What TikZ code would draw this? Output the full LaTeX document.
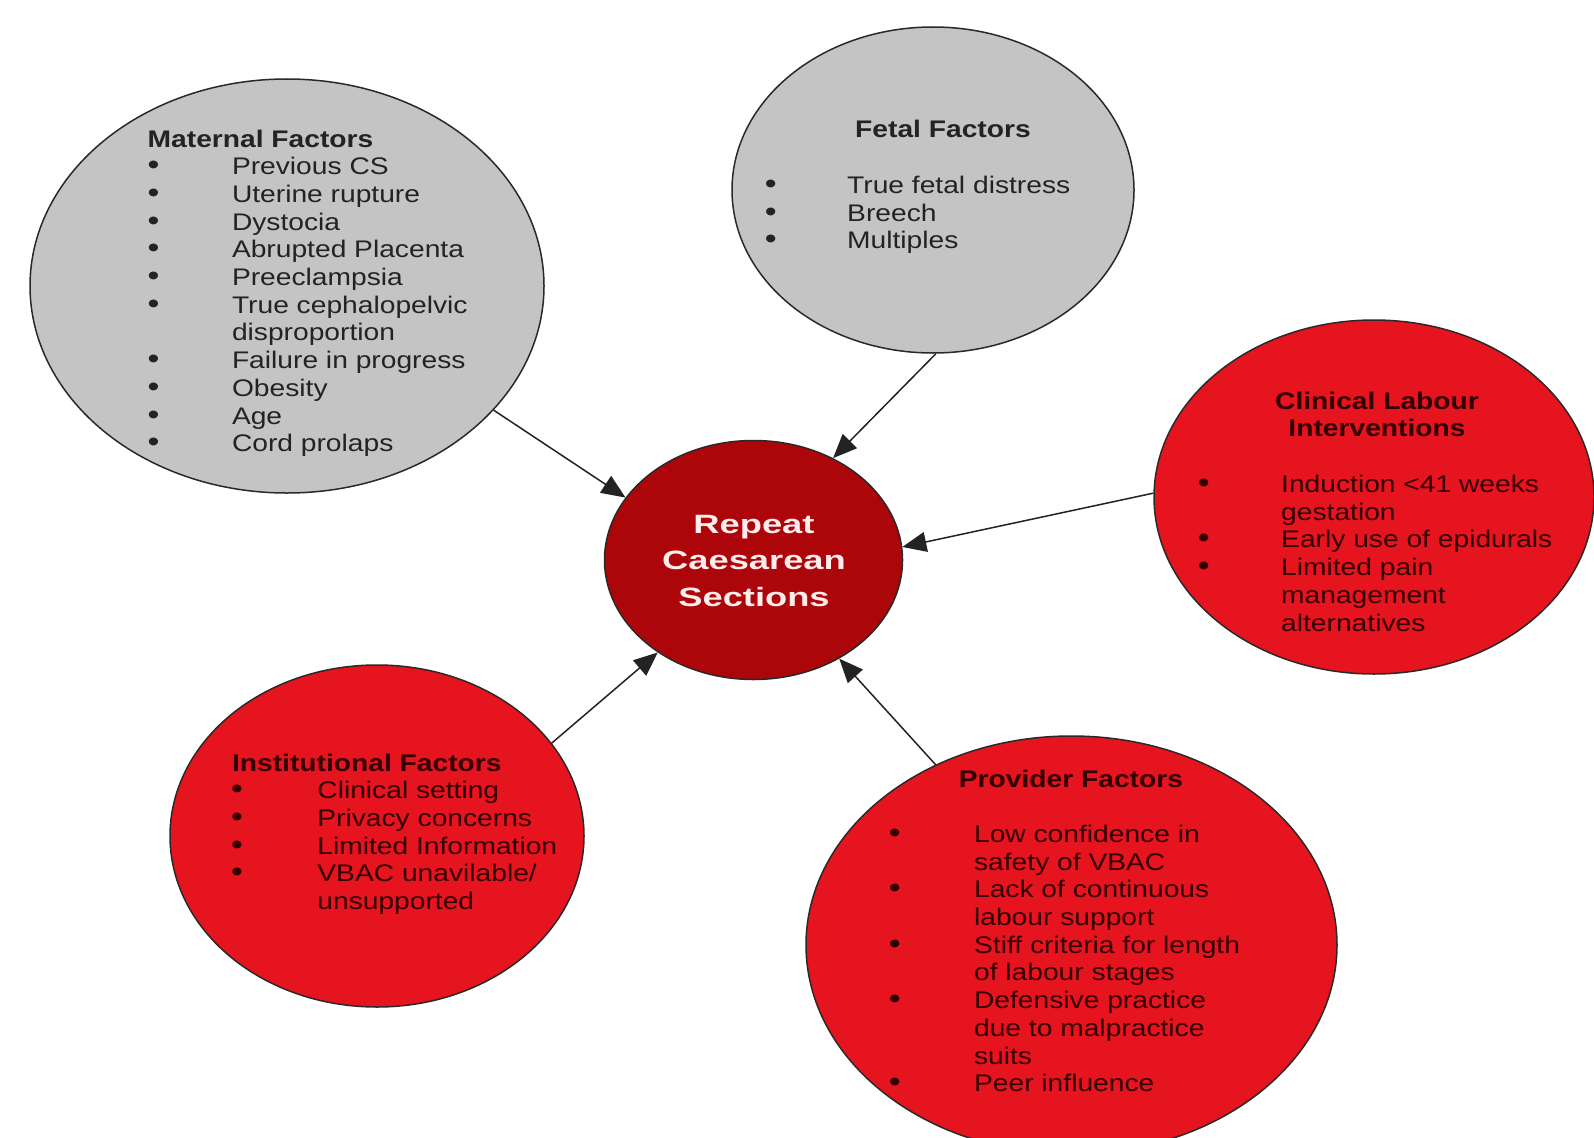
\documentclass[tikz,border=0pt]{standalone}
\usepackage{fontspec}
\setmainfont{Liberation Sans}
\newfontfamily\bodyfont[FakeStretch=1.175]{Liberation Sans}
\newfontfamily\ctrfont[FakeStretch=1.37]{Liberation Sans}
\usetikzlibrary{shapes.geometric,arrows.meta}
\definecolor{greyfill}{RGB}{196,196,196}
\definecolor{redfill}{RGB}{230,20,30}
\definecolor{ctrfill}{RGB}{172,6,10}
\definecolor{edgecol}{RGB}{45,40,40}
\definecolor{arrcol}{RGB}{35,35,35}
\definecolor{greytext}{RGB}{35,35,35}
\definecolor{redtext}{RGB}{50,0,0}
\definecolor{ctrtext}{RGB}{255,236,236}
\newcommand\itm[2]{\makebox[#1][l]{\scalebox{1.2}{\textbullet}}#2}
\newcommand\cnt[2]{\hspace*{#1}#2}
\begin{document}
\begin{tikzpicture}[x=1pt,y=-1pt,
  ell/.style={ellipse, draw=edgecol, line width=1.5pt, inner sep=0pt},
  gell/.style={ell, fill=greyfill},
  rell/.style={ell, fill=redfill},
  txt/.style={anchor=base west, inner sep=0pt, font=\bodyfont\fontsize{24}{27.7}\selectfont},
  arr/.style={draw=arrcol, line width=1.5pt, -{Triangle[length=24pt,width=20pt]}}]
\useasboundingbox (0,0) rectangle (1594,1137);
\fill[white] (0,0) rectangle (1594,1137);
\begin{scope}
\clip (0,0) rectangle (1594,1137);
% ellipses
\node[gell, minimum width=514pt, minimum height=414pt] (mat) at (287,286) {};
\node[gell, minimum width=402pt, minimum height=326pt] (fet) at (933,190) {};
\node[rell, minimum width=440pt, minimum height=354pt] (cli) at (1374,497) {};
\node[rell, minimum width=414pt, minimum height=342pt] (ins) at (377,836) {};
\node[rell, minimum width=531pt, minimum height=418pt] (pro) at (1071.5,945) {};
\node[ell, fill=ctrfill, minimum width=298pt, minimum height=239pt] (ctr) at (753.5,560) {};
% texts
\node[txt, text=greytext] (matT) at (147.5,147) {\begin{tabular}[t]{@{}l@{}}
\textbf{Maternal Factors}\\
\itm{84.3pt}{Previous CS}\\
\itm{84.3pt}{Uterine rupture}\\
\itm{84.3pt}{Dystocia}\\
\itm{84.3pt}{Abrupted Placenta}\\
\itm{84.3pt}{Preeclampsia}\\
\itm{84.3pt}{True cephalopelvic}\\
\cnt{84.3pt}{disproportion}\\
\itm{84.3pt}{Failure in progress}\\
\itm{84.3pt}{Obesity}\\
\itm{84.3pt}{Age}\\
\itm{84.3pt}{Cord prolaps}
\end{tabular}};
\node[txt, text=greytext] (fetT) at (764.6,138) {\begin{tabular}[t]{@{}l@{}}
\cnt{90.4pt}{\textbf{Fetal Factors}}\\
\mbox{}\\
\itm{82.4pt}{True fetal distress}\\
\itm{82.4pt}{Breech}\\
\itm{82.4pt}{Multiples}
\end{tabular}};
\node[anchor=base, inner sep=0pt, text=redtext, font=\bodyfont\fontsize{24}{27.7}\selectfont] (cliH) at (1377,409) {\begin{tabular}[t]{@{}c@{}}
\textbf{Clinical Labour}\\
\textbf{Interventions}
\end{tabular}};
\node[txt, text=redtext] (cliT) at (1197.6,492.5) {\begin{tabular}[t]{@{}l@{}}
\itm{83.4pt}{Induction <41 weeks}\\
\cnt{83.4pt}{gestation}\\
\itm{83.4pt}{Early use of epidurals}\\
\itm{83.4pt}{Limited pain}\\
\cnt{83.4pt}{management}\\
\cnt{83.4pt}{alternatives}
\end{tabular}};
\node[txt, text=redtext] (insT) at (230.9,771) {\begin{tabular}[t]{@{}l@{}}
\cnt{1pt}{\textbf{Institutional Factors}}\\
\itm{86.3pt}{Clinical setting}\\
\itm{86.3pt}{Privacy concerns}\\
\itm{86.3pt}{Limited Information}\\
\itm{86.3pt}{VBAC unavilable/}\\
\cnt{86.3pt}{unsupported}
\end{tabular}};
\node[txt, text=redtext] (proT) at (888.6,787) {\begin{tabular}[t]{@{}l@{}}
\cnt{70.1pt}{\textbf{Provider Factors}}\\
\mbox{}\\
\itm{85.3pt}{Low confidence in}\\
\cnt{85.3pt}{safety of VBAC}\\
\itm{85.3pt}{Lack of continuous}\\
\cnt{85.3pt}{labour support}\\
\itm{85.3pt}{Stiff criteria for length}\\
\cnt{85.3pt}{of labour stages}\\
\itm{85.3pt}{Defensive practice}\\
\cnt{85.3pt}{due to malpractice}\\
\cnt{85.3pt}{suits}\\
\itm{85.3pt}{Peer influence}
\end{tabular}};
\node[anchor=base, inner sep=0pt, text=ctrtext, font=\ctrfont\bfseries\fontsize{26.5}{36.5}\selectfont] (ctrT) at (754,533) {\begin{tabular}[t]{@{}c@{}}
Repeat\\
Caesarean\\
Sections
\end{tabular}};
% connectors
\draw[arr] (mat.-31.7) -- (ctr.154.1);
\draw[arr] (fet.-89) -- (ctr.52.8);
\draw[arr] (cli.179) -- (ctr.5.3);
\draw[arr] (ins.28.5) -- (ctr.-136.6);
\draw[arr] (pro.127.7) -- (ctr.-49);
\end{scope}
\end{tikzpicture}
\end{document}
